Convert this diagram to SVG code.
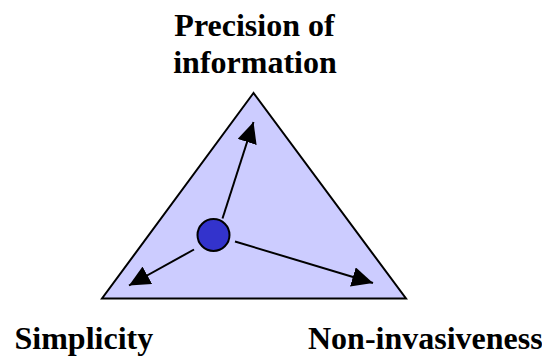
<svg xmlns="http://www.w3.org/2000/svg" width="542" height="359" viewBox="0 0 542 359">
  <style>
    .lbl { font-family: "Liberation Serif", "Times New Roman", serif; font-weight: bold; font-size: 32px; fill: #000; }
    .conn { stroke: #000; stroke-width: 2; fill: none; }
  </style>
  <defs>
    <marker id="arrow" markerUnits="userSpaceOnUse" markerWidth="21" markerHeight="20" viewBox="0 0 21 20" refX="21" refY="10" orient="auto">
      <path d="M0,0 L21,10 L0,20 Z" fill="#000"/>
    </marker>
  </defs>
  <rect width="542" height="359" fill="#fff"/>
  <g id="triangle">
    <polygon points="253.5,93 102,298.5 406,298.5" fill="#CCCCFF" stroke="#000" stroke-width="2" stroke-linejoin="miter"/>
  </g>
  <g id="connectors">
    <line class="conn" x1="222.5" y1="218.5" x2="253.5" y2="122" marker-end="url(#arrow)"/>
    <line class="conn" x1="194" y1="249.5" x2="129" y2="285.5" marker-end="url(#arrow)"/>
    <line class="conn" x1="235" y1="241.5" x2="373" y2="283" marker-end="url(#arrow)"/>
  </g>
  <g id="center">
    <circle cx="213.5" cy="235" r="16" fill="#3333CC" stroke="#000" stroke-width="2"/>
  </g>
  <g id="precision">
    <text class="lbl" x="254.5" y="35.5" text-anchor="middle">Precision of</text>
    <text class="lbl" x="255" y="72.5" text-anchor="middle">information</text>
  </g>
  <g id="simplicity">
    <text class="lbl" x="14.5" y="348.5">Simplicity</text>
  </g>
  <g id="noninvasiveness">
    <text class="lbl" x="308" y="348.5">Non-invasiveness</text>
  </g>
</svg>
